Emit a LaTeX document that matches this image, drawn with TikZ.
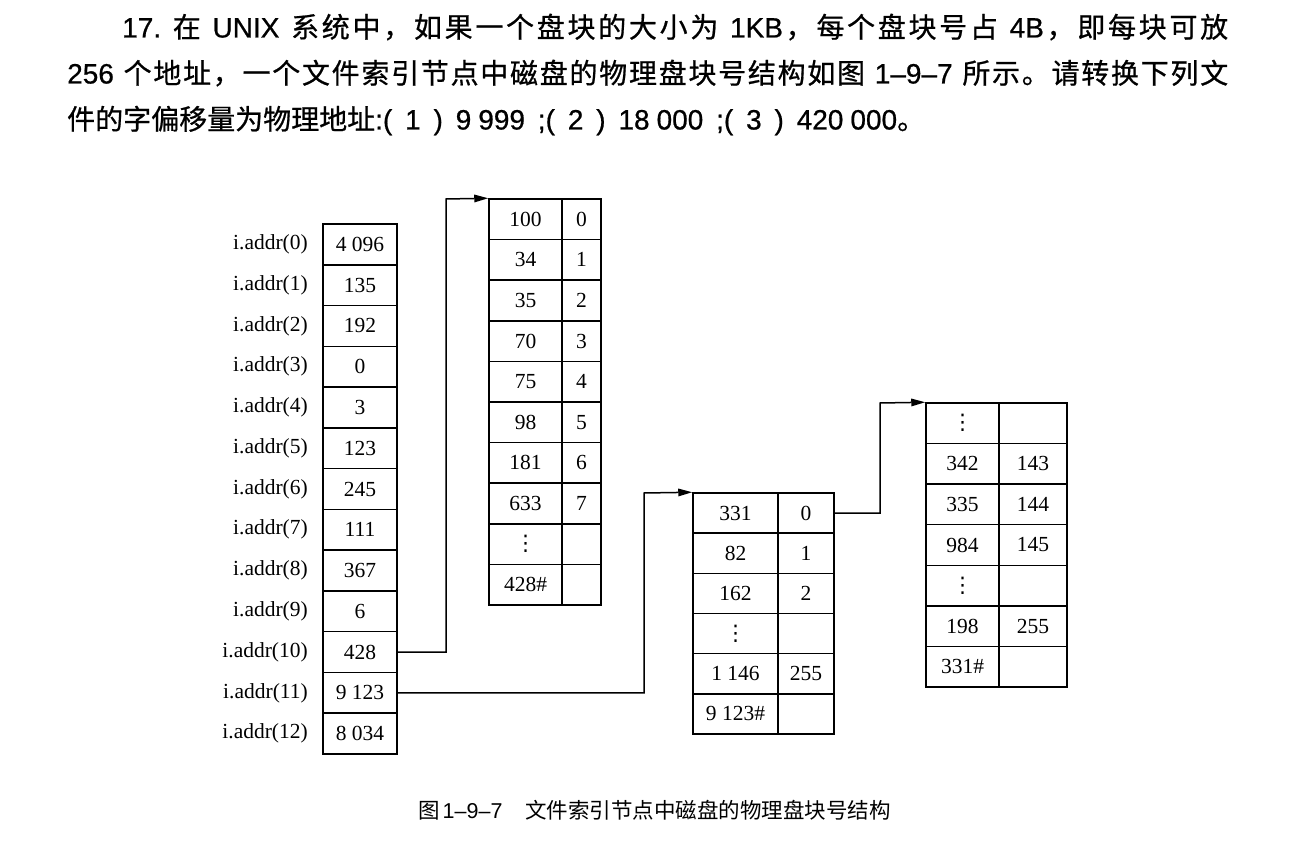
\documentclass[tikz,border=0pt]{standalone}
\usepackage{fontspec}
\setmainfont{Liberation Serif}
\newfontfamily\cjk[FakeBold=0.7]{Noto Sans CJK SC}
\newfontfamily\cjkcap{Noto Sans CJK SC}
\newfontfamily\hv[FakeBold=0.7]{Liberation Sans}
\newfontfamily\hvcap{Liberation Sans}
\newfontfamily\dv{DejaVu Sans}
\usetikzlibrary{arrows.meta}
\def\spreadtok#1{\ifx\relax#1\else#1\hskip0pt plus 1fil\relax\expandafter\spreadtok\fi}
\newcommand\vdt{{\dv ⋮}}
\begin{document}
\begin{tikzpicture}[x=1pt,y=-1pt,
  cell/.style={draw, line width=1.5pt, inner sep=0pt, font=\fontsize{21.5}{24}\selectfont},
  lab/.style={anchor=east, inner sep=0pt, font=\fontsize{21.5}{24}\selectfont},
  conn/.style={line width=1.5pt, -{Triangle[length=14pt,width=7.5pt]}},
  title/.style={anchor=base west, inner sep=0pt, font=\cjk\fontsize{28}{30}\selectfont},
  caption/.style={anchor=base west, inner sep=0pt, font=\cjkcap\fontsize{21.5}{24}\selectfont}]
\useasboundingbox (0,0) rectangle (1292,858);

% title
\node[title] (t1) at (122,37.5) {\makebox[1106pt][s]{\spreadtok {{\hv 17.}}~在~{{\hv UNIX}}~系统中，如果一个盘块的大小为~{{\hv 1KB}}，每个盘块号占~{{\hv 4B}}，即每块可放\relax\unskip}};
\node[title] (t2) at (67,83.5) {\makebox[1161pt][s]{\spreadtok {{\hv 256}}~个地址，一个文件索引节点中磁盘的物理盘块号结构如图~{{\hv 1–9–7}}~所示。请转换下列文\relax\unskip}};
\node[title] (t3) at (67,129.5) {件的字偏移量为物理地址\makebox[522pt][s]{\hv :( 1 ) 9\kern7pt 999 ;( 2 ) 18\kern7pt 000 ;( 3 ) 420\kern7pt 000}。};

% index node
\foreach \v [count=\i from 0] in {4 096,135,192,0,3,123,245,111,367,6,428,9 123,8 034}{
  \node[cell, minimum width=74pt, minimum height=40.77pt] (a\i) at (360,{224+20.385+40.77*\i}) {\v};
  \node[lab] (l\i) at (308,{224+20.385+40.77*\i}) {i.addr(\i)};
}

% first indirect block
\foreach \l/\r [count=\i from 0] in {100/0,34/1,35/2,70/3,75/4,98/5,181/6,633/7,{\vdt}/{},{428\#}/{}}{
  \node[cell, minimum width=73pt, minimum height=40.6pt] (b\i) at (525.5,{199+20.3+40.6*\i}) {\l};
  \node[cell, minimum width=39pt, minimum height=40.6pt] (br\i) at (581.5,{199+20.3+40.6*\i}) {\r};
}

% double indirect block
\foreach \l/\r [count=\i from 0] in {331/0,82/1,162/2,{\vdt}/{},{1 146}/255,{9 123\#}/{}}{
  \node[cell, minimum width=85pt, minimum height=40.17pt] (c\i) at (735.5,{493+20.085+40.17*\i}) {\l};
  \node[cell, minimum width=56pt, minimum height=40.17pt] (cr\i) at (806,{493+20.085+40.17*\i}) {\r};
}

% second level block
\foreach \l/\r [count=\i from 0] in {{\vdt}/{},342/143,335/144,984/145,{\vdt}/{},198/255,{331\#}/{}}{
  \node[cell, minimum width=73pt, minimum height=40.57pt] (d\i) at (962.5,{403+20.285+40.57*\i}) {\l};
  \node[cell, minimum width=68pt, minimum height=40.57pt] (dr\i) at (1033,{403+20.285+40.57*\i}) {\r};
}

% connectors
\coordinate (k1) at (446,199);
\coordinate (k2) at (644,493);
\coordinate (k3) at (880,403);
\draw[conn] (a10.east) -| (k1) -- (b0.north west);
\draw[conn] (a11.east) -| (k2) -- (c0.north west);
\draw[conn] (cr0.east) -| (k3) -- (d0.north west);

% caption
\node[caption] (cap) at (418,818) {图\hspace{3pt}{\hvcap 1–9–7}\hspace{23pt}文件索引节点中磁盘的物理盘块号结构};
\end{tikzpicture}
\end{document}
